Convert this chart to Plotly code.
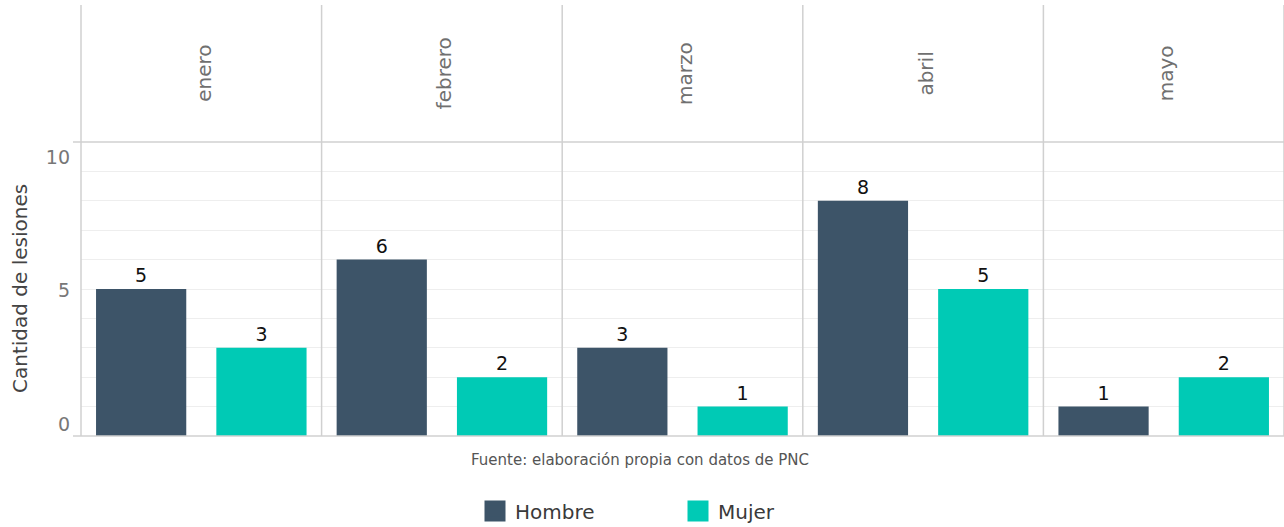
import plotly.graph_objects as go

months = ["enero", "febrero", "marzo", "abril", "mayo"]
sexes = ["Hombre", "Mujer"]
hombre = [5, 6, 3, 8, 1]
mujer = [3, 2, 1, 5, 2]
colors = {"Hombre": "#3d5468", "Mujer": "#00cab5"}
y_ticks = [0, 5, 10]
caption = "Fuente: elaboración propia con datos de PNC"
y_title = "Cantidad de lesiones"

FONT = "DejaVu Sans"
W, H = 1284, 527
ML, MR, MT, MB = 81, 0, 5, 91
plot_h = H - MT - MB
plot_w = W - ML - MR
y_top = (436 - 142) / plot_h  # bar area fraction of plotting height
n = len(months)

fig = go.Figure()
series = {"Hombre": hombre, "Mujer": mujer}
for i, m in enumerate(months):
    xa = "x" if i == 0 else f"x{i+1}"
    for s in sexes:
        v = series[s][i]
        fig.add_trace(go.Bar(
            x=[s], y=[v], xaxis=xa, yaxis="y",
            marker=dict(color=colors[s], line=dict(width=0)),
            width=0.75, text=[str(v)], textposition="outside",
            textfont=dict(family=FONT, size=19, color="#111111"),
            constraintext="none", cliponaxis=False,
            showlegend=False, name=s, hoverinfo="skip",
        ))

# legend proxies
for s in sexes:
    fig.add_trace(go.Scatter(
        x=[None], y=[None], mode="markers", name=s,
        marker=dict(symbol="square", size=16, color=colors[s],
                    line=dict(color=colors[s], width=8)),
        showlegend=True,
    ))

layout = dict(
    template="none",
    width=W, height=H,
    margin=dict(l=ML, r=MR, t=MT, b=MB, autoexpand=False),
    paper_bgcolor="white", plot_bgcolor="white",
    bargap=0.25,
    font=dict(family=FONT, color="#444444"),
    showlegend=True,
    legend=dict(orientation="h", x=(678 - ML) / plot_w, xanchor="center",
                y=-(511 - 436) / plot_h, yanchor="middle",
                font=dict(family=FONT, size=20, color="#3a3a3a"),
                entrywidth=158, itemsizing="trace",
                bgcolor="rgba(0,0,0,0)"),
)
for i in range(n):
    key = "xaxis" if i == 0 else f"xaxis{i+1}"
    layout[key] = dict(
        domain=[i / n, (i + 1) / n], anchor="y",
        range=[-0.5, 1.5], categoryorder="array", categoryarray=sexes,
        showticklabels=False, showgrid=False, zeroline=False, ticks="",
        showline=False, fixedrange=True, automargin=False,
    )
layout["yaxis"] = dict(
    domain=[0, y_top], anchor="x", range=[0, 10],
    tickvals=list(range(0, 11)), showticklabels=False,
    showgrid=True, gridcolor="#eeeeee", gridwidth=1, zeroline=False,
    showline=False, ticks="", fixedrange=True, automargin=False,
)
# tick-label axis (labels as placed in reference)
layout["yaxis6"] = dict(
    domain=[0, y_top], anchor="x", overlaying="y", side="left",
    range=[-0.45, 10.56], tickvals=y_ticks, ticktext=[str(t) for t in y_ticks],
    showgrid=False, zeroline=False, showline=False, ticks="",
    tickfont=dict(family=FONT, size=19, color="#777777"),
    ticklabelstandoff=10, automargin=False,
    fixedrange=True,
)
fig.update_layout(**layout)

fig.add_trace(go.Scatter(x=[None], y=[None], xaxis="x", yaxis="y6",
                         showlegend=False, hoverinfo="skip"))

shapes = []
line_col = "#d0d0d0"
for i in range(n + 1):
    shapes.append(dict(type="line", xref="paper", yref="paper",
                       x0=i / n, x1=i / n, y0=0, y1=1,
                       line=dict(color=line_col, width=1.5), layer="above"))
shapes.append(dict(type="line", xref="paper", yref="paper",
                   x0=-8 / plot_w, x1=1, y0=y_top, y1=y_top,
                   line=dict(color=line_col, width=1.5)))
shapes.append(dict(type="line", xref="paper", yref="paper",
                   x0=-8 / plot_w, x1=1, y0=0, y1=0,
                   line=dict(color=line_col, width=1.5), layer="above"))
fig.update_layout(shapes=shapes)

annotations = []
for i, m in enumerate(months):
    annotations.append(dict(
        text=m, xref="paper", yref="paper",
        x=(i + 0.5) / n + 3 / plot_w, y=(y_top + 1) / 2,
        showarrow=False, textangle=-90,
        font=dict(family=FONT, size=20, color="#707070"),
        xanchor="center", yanchor="middle",
    ))
annotations.append(dict(
    text=y_title, xref="paper", yref="paper",
    x=-61 / plot_w, y=y_top / 2, showarrow=False, textangle=-90,
    font=dict(family=FONT, size=20, color="#444444"),
    xanchor="center", yanchor="middle",
))
annotations.append(dict(
    text=caption, xref="paper", yref="paper",
    x=(640 - ML) / plot_w, y=-(460 - 436) / plot_h, showarrow=False,
    font=dict(family=FONT, size=15, color="#555555"),
    xanchor="center", yanchor="middle",
))
fig.update_layout(annotations=annotations)

fig.write_html("out.html", config={"displayModeBar": False},
               post_script="document.body.style.margin='0';document.body.style.overflow='hidden';")
